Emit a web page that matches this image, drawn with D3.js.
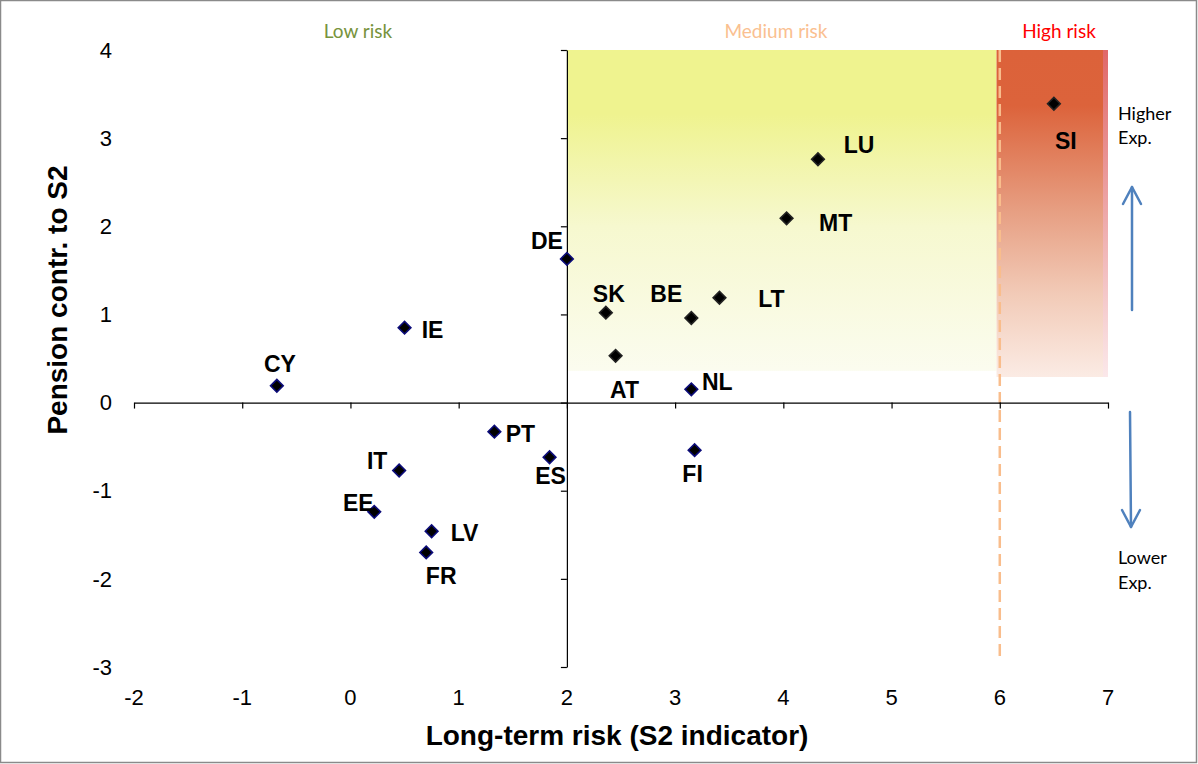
<!DOCTYPE html>
<html>
<head>
<meta charset="utf-8">
<script src="https://cdn.jsdelivr.net/npm/d3@7"></script>
<style>
  html, body { margin: 0; padding: 0; background: #fff; }
  svg { display: block; }
</style>
</head>
<body>
<svg id="chart" width="1198" height="764"></svg>
<script>
// ---- data ----
const countries = ["CY","IE","DE","SK","AT","BE","LT","NL","MT","LU","SI","PT","ES","FI","IT","EE","LV","FR"];
const s2Values = [-0.68, 0.50, 2.00, 2.36, 2.45, 3.15, 3.41, 3.15, 4.03, 4.32, 6.50, 1.33, 1.84, 3.18, 0.45, 0.22, 0.75, 0.70];
const pensionValues = [0.19, 0.85, 1.63, 1.02, 0.53, 0.96, 1.19, 0.15, 2.09, 2.76, 3.39, -0.33, -0.62, -0.54, -0.77, -1.24, -1.46, -1.70];
const markerGroup = ["low","low","low","mid","mid","mid","mid","low","mid","mid","mid","low","low","low","low","low","low","low"];
const xTicks = [-2, -1, 0, 1, 2, 3, 4, 5, 6, 7];
const yTicks = [4, 3, 2, 1, 0, -1, -2, -3];
const zoneLabels = ["Low risk", "Medium risk", "High risk"];
const mediumZone = {x0: 2, x1: 5.97, y0: 0.36, y1: 4};
const highZone = {x0: 5.97, x1: 7, y0: 0.29, y1: 4};
const highThreshold = 6;

// ---- layout (label offsets in pixels) ----
const labelOffsets = {
  CY:[3,-22], IE:[28,2], DE:[-20,-18], SK:[3,-19], AT:[9,34], BE:[-25,-24],
  LT:[52,1], NL:[26,-7], MT:[49,5], LU:[41,-14], SI:[12,37], PT:[26,2],
  ES:[1,19], FI:[-2,24], IT:[-22,-9], EE:[-16,-9], LV:[33,2], FR:[15,24]
};

const svg = d3.select("#chart");
const x = d3.scaleLinear().domain([-2, 7]).range([134, 1108]);
const y = d3.scaleLinear().domain([-3, 4]).range([667, 50]);

// border
svg.append("rect").attr("x", 0.5).attr("y", 0.5).attr("width", 1196).attr("height", 762)
  .attr("fill", "#fff").attr("stroke", "#8a8a8a").attr("stroke-width", 1.5);

// gradients
const defs = svg.append("defs");
const gMed = defs.append("linearGradient").attr("id", "gMed").attr("x1", 0).attr("y1", 0).attr("x2", 0).attr("y2", 1);
[[0, "#eff38f"], [0.2, "#eff38f"], [0.55, "#f6f8cf"], [1, "#fbfcef"]].forEach(s =>
  gMed.append("stop").attr("offset", s[0]).attr("stop-color", s[1]));
const gHigh = defs.append("linearGradient").attr("id", "gHigh").attr("x1", 0).attr("y1", 0).attr("x2", 0).attr("y2", 1);
[[0, "#dc623a"], [0.17, "#dc633b"], [0.5, "#e7a084"], [0.75, "#f2cbb8"], [1, "#fbebe4"]].forEach(s =>
  gHigh.append("stop").attr("offset", s[0]).attr("stop-color", s[1]));
const gHighEdge = defs.append("linearGradient").attr("id", "gHighEdge").attr("x1", 0).attr("y1", 0).attr("x2", 0).attr("y2", 1);
[[0, "#e06868"], [1, "#fbe8ea"]].forEach(s =>
  gHighEdge.append("stop").attr("offset", s[0]).attr("stop-color", s[1]));

// zones
svg.append("rect")
  .attr("x", x(mediumZone.x0)).attr("y", y(mediumZone.y1))
  .attr("width", x(mediumZone.x1) - x(mediumZone.x0)).attr("height", y(mediumZone.y0) - y(mediumZone.y1))
  .attr("fill", "url(#gMed)");
svg.append("rect")
  .attr("x", x(highZone.x0)).attr("y", y(highZone.y1))
  .attr("width", x(highZone.x1) - x(highZone.x0)).attr("height", y(highZone.y0) - y(highZone.y1))
  .attr("fill", "url(#gHigh)");
svg.append("rect")
  .attr("x", x(highZone.x1) - 5).attr("y", y(highZone.y1))
  .attr("width", 5).attr("height", y(highZone.y0) - y(highZone.y1))
  .attr("fill", "url(#gHighEdge)");

// dashed threshold
svg.append("line")
  .attr("x1", x(highThreshold)).attr("x2", x(highThreshold))
  .attr("y1", y(4)).attr("y2", 662)
  .attr("stroke", "#f9bd8c").attr("stroke-width", 2.5).attr("stroke-dasharray", "12,6");

// axes
const xAxis = d3.axisBottom(x).tickValues(xTicks).tickSize(6).tickSizeOuter(0).tickFormat("");
svg.append("g").attr("transform", `translate(0,${y(0)})`).call(xAxis)
  .call(g => g.selectAll("path,line").attr("stroke", "#000").attr("stroke-width", 1.2));
const yAxis = d3.axisLeft(y).tickValues(yTicks).tickSize(6).tickSizeOuter(0).tickFormat("");
svg.append("g").attr("transform", `translate(${x(2)},0)`).call(yAxis)
  .call(g => g.selectAll("path,line").attr("stroke", "#000").attr("stroke-width", 1.2));

// tick labels
svg.append("g").selectAll("text").data(xTicks).join("text")
  .attr("x", d => x(d)).attr("y", 697).attr("dy", "0.35em")
  .attr("text-anchor", "middle")
  .style("font", "22px 'Liberation Sans', Arial, sans-serif").attr("fill", "#000")
  .text(d => d);
svg.append("g").selectAll("text").data(yTicks).join("text")
  .attr("x", 112).attr("y", d => y(d)).attr("dy", "0.35em")
  .attr("text-anchor", "end")
  .style("font", "22px 'Liberation Sans', Arial, sans-serif").attr("fill", "#000")
  .text(d => d);

// axis titles
svg.append("text").attr("x", 617).attr("y", 735).attr("dy", "0.35em")
  .attr("text-anchor", "middle")
  .style("font", "bold 28px 'Liberation Sans', Arial, sans-serif")
  .text("Long-term risk (S2 indicator)");
svg.append("text").attr("transform", "translate(57,300) rotate(-90)").attr("dy", "0.35em")
  .attr("text-anchor", "middle")
  .style("font", "bold 28px 'Liberation Sans', Arial, sans-serif")
  .text("Pension contr. to S2");

// zone labels
const zoneLabelPos = [[358, "#77933c"], [776, "#fac090"], [1059, "#ff0000"]];
svg.append("g").selectAll("text").data(zoneLabels).join("text")
  .attr("x", (d, i) => zoneLabelPos[i][0]).attr("y", 31).attr("dy", "0.35em")
  .attr("text-anchor", "middle")
  .style("font", "19px Lato, 'Open Sans', sans-serif")
  .attr("fill", (d, i) => zoneLabelPos[i][1])
  .text(d => d);

// side notes
const side = svg.append("g").style("font", "18px Lato, 'Open Sans', sans-serif").attr("fill", "#000");
side.append("text").attr("x", 1118).attr("y", 120).text("Higher");
side.append("text").attr("x", 1118).attr("y", 144).text("Exp.");
side.append("text").attr("x", 1118).attr("y", 564).text("Lower");
side.append("text").attr("x", 1118).attr("y", 589).text("Exp.");

// arrows
const arrowColor = "#4f81bd";
const arr = svg.append("g").attr("stroke", arrowColor).attr("stroke-width", 2.5).attr("fill", "none")
  .attr("stroke-linecap", "round").attr("stroke-linejoin", "round");
arr.append("line").attr("x1", 1132).attr("y1", 310).attr("x2", 1132).attr("y2", 187);
arr.append("path").attr("d", "M1123,204 L1132,187 L1141,204");
arr.append("line").attr("x1", 1130).attr("y1", 412).attr("x2", 1131).attr("y2", 527);
arr.append("path").attr("d", "M1122,510 L1131,527 L1140,510");

// points
const pts = countries.map((c, i) => ({c, sx: s2Values[i], py: pensionValues[i], g: markerGroup[i]}));
svg.append("g").selectAll("path").data(pts).join("path")
  .attr("transform", d => `translate(${x(d.sx)},${y(d.py)}) rotate(45)`)
  .attr("d", d3.symbol().type(d3.symbolSquare).size(80))
  .attr("fill", "#000")
  .attr("stroke", d => d.g === "low" ? "#0c0c7a" : "#222")
  .attr("stroke-width", 1.6);

// point labels
svg.append("g").selectAll("text").data(pts).join("text")
  .attr("x", d => x(d.sx) + labelOffsets[d.c][0])
  .attr("y", d => y(d.py) + labelOffsets[d.c][1])
  .attr("dy", "0.35em")
  .attr("text-anchor", "middle")
  .style("font", "bold 23px 'Liberation Sans', Arial, sans-serif")
  .attr("fill", "#000")
  .text(d => d.c);
</script>
</body>
</html>
